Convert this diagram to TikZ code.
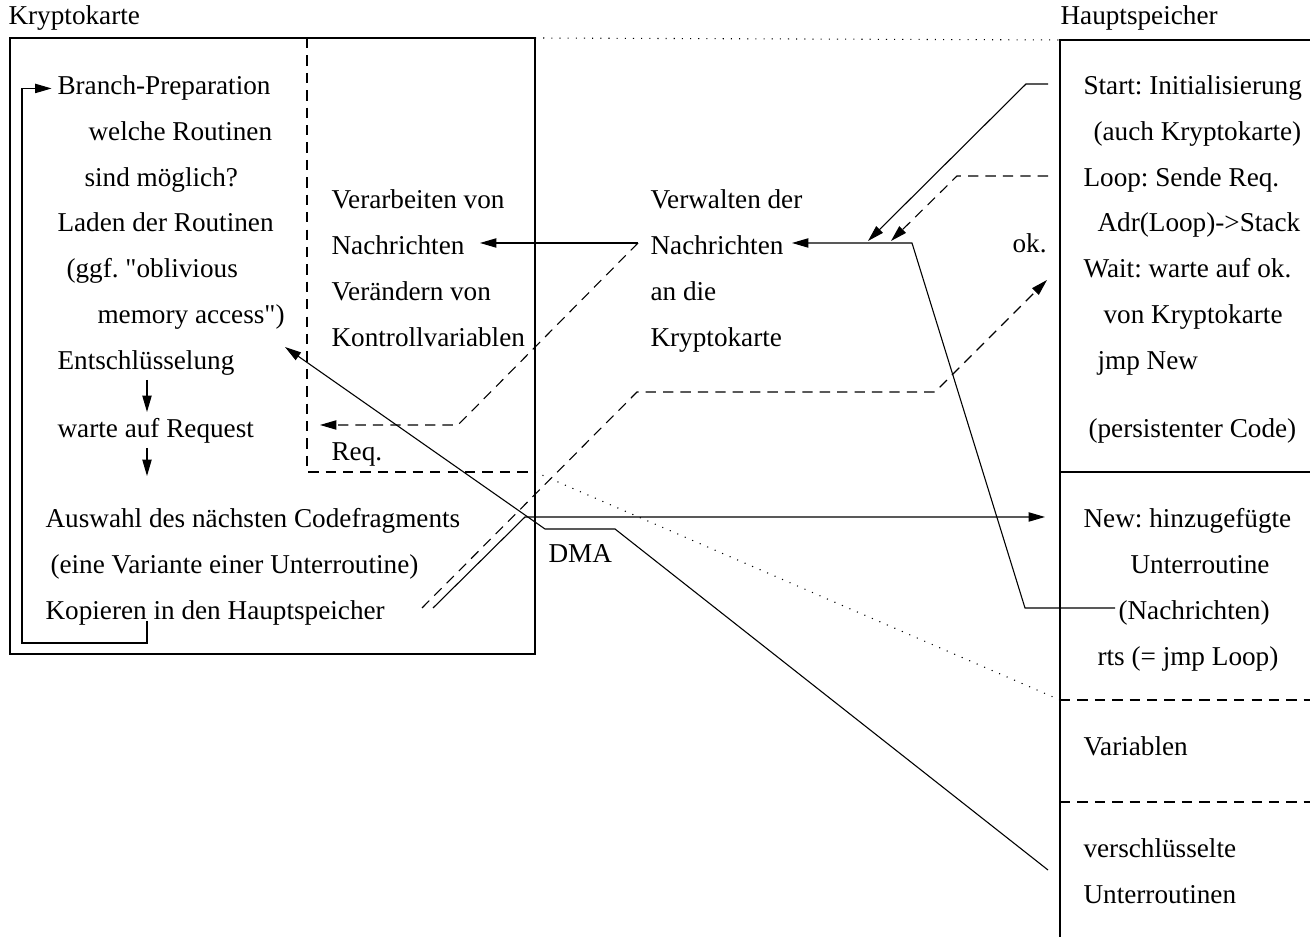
\documentclass[tikz,border=0pt]{standalone}
\usepackage{fontspec}
\setmainfont{Liberation Serif}[Ligatures=TeXOff]
\usetikzlibrary{arrows.meta}
\frenchspacing

\begin{document}
\begin{tikzpicture}[x=0.3676pt,y=-0.3676pt,
    >={Triangle[length=6pt,width=3.4pt]},
    dashline/.style={dash pattern=on 3.8pt off 2.6pt},
    dotline/.style={dash pattern=on 0.4pt off 2.6pt},
    every node/.style={inner sep=0pt,anchor=base west,font=\fontsize{10pt}{12pt}\selectfont}]

      \useasboundingbox (0,0) rectangle (1310,937);

      % the two boxes
      \draw[line width=0.9pt] (10,38) rectangle (535,654);
      \draw[line width=0.5pt] (1310,40) -- (1060,40) -- (1060,937);
      \draw[line width=0.5pt] (1060,472) -- (1310,472);
      \draw[line width=0.5pt,dashline] (1060,700) -- (1310,700);
      \draw[line width=0.5pt,dashline] (1060,802) -- (1310,802);
      \draw[dashline] (307,38) -- (307,472) -- (535,472);
      \draw[dotline] (535,38) -- (1060,40);
      \draw[dotline] (535,472) -- (1060,700);

      \node (kk) at (8,25) {Kryptokarte};
      \node (hs) at (1060,25) {Hauptspeicher};

      \begin{scope}
        \node (bp) at (57,95) {Branch-Preparation};
        \node (wr) at (88,141) {welche Routinen};
        \node (sm) at (84,187) {sind möglich?};
        \node (ld) at (57,232) {Laden der Routinen};
        \node (gg) at (66,278) {(ggf. "oblivious};
        \node (ma) at (97,324) {memory access")};
        \node (ent) at (57,370) {Entschlüsselung};
        \node (war) at (57,438) {warte auf Request};
        \node (aus) at (45,528) {Auswahl des nächsten Codefragments};
        \node (vu) at (50,574) {(eine Variante einer Unterroutine)};
        \node (kop) at (45,620) {Kopieren in den Hauptspeicher};
      \end{scope}

      \begin{scope}
        \node (vv) at (331,209) {Verarbeiten von};
        \node (vn) at (331,255) {Nachrichten};
        \node (vk) at (331,301) {Verändern von};
        \node (kv) at (331,347) {Kontrollvariablen};
        \node (req) at (331,461) {Req.};
        \node (wd) at (650,209) {Verwalten der};
        \node (wn) at (650,255) {Nachrichten};
        \node (wa) at (650,301) {an die};
        \node (wk) at (650,347) {Kryptokarte};
        \node (ok) at (1012,253) {ok.};
        \node (dma) at (548,563) {DMA};
      \end{scope}

      \begin{scope}
        \node (st) at (1083,95) {Start: Initialisierung};
        \node (ak) at (1093,141) {(auch Kryptokarte)};
        \node (lp) at (1083,187) {Loop: Sende Req.};
        \node (adr) at (1097,232) {Adr(Loop)->Stack};
        \node (wt) at (1083,278) {Wait: warte auf ok.};
        \node (vkk) at (1103,324) {von Kryptokarte};
        \node (jmp) at (1097,370) {jmp New};
        \node (pc) at (1088,438) {(persistenter Code)};
        \node (new) at (1083,528) {New: hinzugefügte};
        \node (ur) at (1130,574) {Unterroutine};
        \node (nach) at (1118,620) {(Nachrichten)};
        \node (rts) at (1097,666) {rts (= jmp Loop)};
        \node (vars) at (1083,756) {Variablen};
        \node (vs) at (1083,858) {verschlüsselte};
        \node (uro) at (1083,904) {Unterroutinen};
      \end{scope}

      % end points of the connectors
      \coordinate (loop) at (147,621);
      \coordinate (entD) at (147,380);
      \coordinate (warU) at (147,412);
      \coordinate (warD) at (147,448);
      \coordinate (ausU) at (147,476);
      \coordinate (wnL) at (638,243);
      \coordinate (vnR) at (480,243);
      \coordinate (reqA) at (320,425);
      \coordinate (stL) at (1048,84);
      \coordinate (lpL) at (1048,176);
      \coordinate (inA) at (868,241);
      \coordinate (inB) at (891,241);
      \coordinate (wnR) at (792,243);
      \coordinate (nachL) at (1115,608);
      \coordinate (kopA) at (422,608);
      \coordinate (kopB) at (433,608);
      \coordinate (okA) at (1047,280);
      \coordinate (newA) at (1045,517);
      \coordinate (vsL) at (1048,870);
      \coordinate (entR) at (285,347);

      \begin{scope}[thin]
        \draw[->] (loop) |- (22,643) |- ([xshift=-2]bp.west);
        \draw[->] (entD) -- (warU);
        \draw[->] (warD) -- (ausU);
        \draw[->] (wnL) -- (vnR);
        \draw[->] (stL) -- (1026,84) -- (inA);
        \draw[->] (nachL) -- (1025,608) -- (912,243) -- (wnR);
        \draw[->] (kopB) -- (525,517) -- (newA);
        \draw[->] (vsL) -- (615,529) -- (545,529) -- (entR);
      \end{scope}

      \begin{scope}[thin,dashline]
        \draw[->] (wnL) -- (458,425) -- (reqA);
        \draw[->] (lpL) -- (957,176) -- (inB);
        \draw[->] (kopA) -- (637,392) -- (935,392) -- (okA);
      \end{scope}

    \end{tikzpicture}
\end{document}
